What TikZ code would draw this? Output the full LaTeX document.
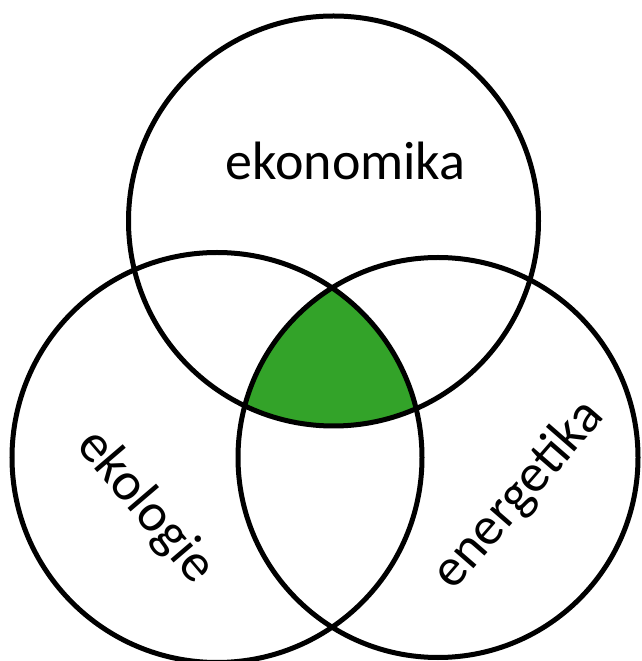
\documentclass[tikz,border=0pt]{standalone}
\usepackage{fontspec}
\setmainfont{Carlito}
\definecolor{vgreen}{RGB}{51,163,41}
\begin{document}
\begin{tikzpicture}[x=1pt,y=1pt,
  ring/.style={draw=black,line width=5pt},
  lbl/.style={font=\fontsize{54}{60}\selectfont,text=black,inner sep=0pt}]
\useasboundingbox (0,0) rectangle (641,661);
\coordinate (ctop) at (333.5,440);
\coordinate (cleft) at (217,203.5);
\coordinate (cright) at (438,203.5);
\begin{scope}
  \clip (ctop) circle (205);
  \clip (cleft) circle (205);
  \fill[vgreen] (cright) circle (200);
\end{scope}
\draw[ring] (ctop) circle (205);
\draw[ring] (cleft) circle (205);
\draw[ring] (cright) circle (200);
\node[lbl,anchor=base] (eko) at (345.5,481) {ekonomika};
\node[lbl,anchor=mid,rotate=-49.5] (ekol) at (136.5,146.5) {ekologie};
\node[lbl,anchor=mid,rotate=49] (ener) at (527.5,158) {energetika};
\end{tikzpicture}
\end{document}
